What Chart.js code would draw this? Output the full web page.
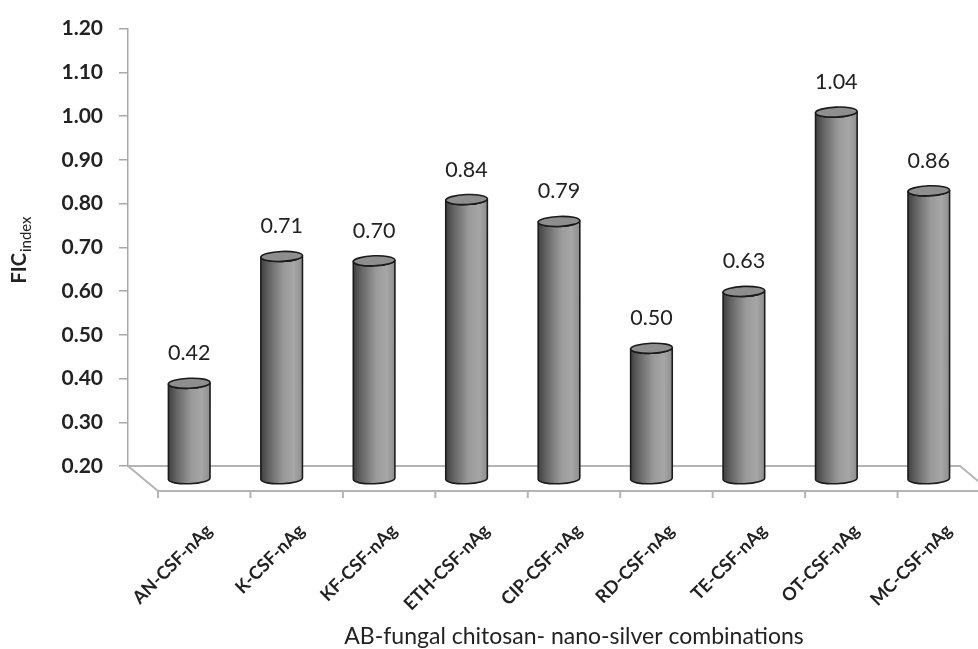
<!DOCTYPE html>
<html>
<head>
<meta charset="utf-8">
<script src="https://cdn.jsdelivr.net/npm/chart.js@4.4.1/dist/chart.umd.min.js"></script>
<style>
  html, body { margin: 0; padding: 0; background: #ffffff; }
  #wrap { width: 978px; height: 649px; }
</style>
</head>
<body>
<div id="wrap"><canvas id="chart" width="978" height="649"></canvas></div>
<script>
// FIC index of each antibiotic / fungal chitosan / nano-silver combination
const categories = [
  'AN-CSF-nAg', 'K-CSF-nAg', 'KF-CSF-nAg', 'ETH-CSF-nAg', 'CIP-CSF-nAg',
  'RD-CSF-nAg', 'TE-CSF-nAg', 'OT-CSF-nAg', 'MC-CSF-nAg'
];
const ficValues = [0.42, 0.71, 0.70, 0.84, 0.79, 0.50, 0.63, 1.04, 0.86];
const yTickValues = [0.20, 0.30, 0.40, 0.50, 0.60, 0.70, 0.80, 0.90, 1.00, 1.10, 1.20];
const xAxisTitle = 'AB-fungal chitosan- nano-silver combinations';
const yAxisTitle = 'FIC';
const yAxisTitleSub = 'index';

// depth of the 3-D floor (pixels the front edge sits right of / below the back edge)
const DEPTH_X = 30;
const DEPTH_Y = 25;
const FLOOR_COLOR = '#b4b4b4';
const FONT = 'Lato, "Open Sans", "DejaVu Sans", sans-serif';

// floor parallelogram under the cylinders, with category ticks on its front edge
const floorPlugin = {
  id: 'floor',
  beforeDatasetsDraw(chart) {
    const { ctx, chartArea } = chart;
    const y = chart.scales.y;
    const backY = y.getPixelForValue(y.min);
    const left = chartArea.left, right = chartArea.right;
    ctx.save();
    ctx.strokeStyle = FLOOR_COLOR;
    ctx.lineWidth = 2;
    ctx.beginPath();
    ctx.moveTo(left, backY);
    ctx.lineTo(left + DEPTH_X, backY + DEPTH_Y);
    ctx.lineTo(right + DEPTH_X, backY + DEPTH_Y);
    ctx.lineTo(right, backY);
    ctx.stroke();
    // category boundary ticks on the front edge
    const step = (right - left) / categories.length;
    ctx.beginPath();
    for (let i = 0; i <= categories.length; i++) {
      const px = left + DEPTH_X + i * step;
      ctx.moveTo(px, backY + DEPTH_Y);
      ctx.lineTo(px, backY + DEPTH_Y + 7);
    }
    ctx.stroke();
    ctx.restore();
  }
};

function drawCylinder(ctx, cx, topY, baseY, w, ry) {
  const rx = w / 2, l = cx - rx, r = cx + rx;
  const g = ctx.createLinearGradient(l, 0, r, 0);
  g.addColorStop(0.00, '#404040');
  g.addColorStop(0.18, '#626262');
  g.addColorStop(0.55, '#9a9a9a');
  g.addColorStop(0.80, '#a6a6a6');
  g.addColorStop(1.00, '#8e8e8e');
  const tilt = -0.04;
  ctx.beginPath();
  ctx.moveTo(l, topY);
  ctx.lineTo(l, baseY);
  ctx.ellipse(cx, baseY, rx, ry, tilt, Math.PI, 0, true);
  ctx.lineTo(r, topY);
  ctx.ellipse(cx, topY, rx, ry, tilt, 0, Math.PI, false);
  ctx.closePath();
  ctx.fillStyle = g;
  ctx.fill();
  ctx.strokeStyle = '#1c1c1c';
  ctx.lineWidth = 1.6;
  ctx.stroke();
  // top cap
  ctx.beginPath();
  ctx.ellipse(cx, topY, rx, ry, tilt, 0, Math.PI * 2);
  ctx.fillStyle = '#8e8e8e';
  ctx.fill();
  ctx.lineWidth = 1.6;
  ctx.strokeStyle = '#1a1a1a';
  ctx.stroke();
}

// cylinders placed half-way into the floor depth, plus value labels
const cylinderPlugin = {
  id: 'cylinders',
  afterDatasetsDraw(chart) {
    const { ctx } = chart;
    const meta = chart.getDatasetMeta(0);
    const dx = DEPTH_X / 2, dy = DEPTH_Y / 2 + 1;
    ctx.save();
    meta.data.forEach((bar, i) => {
      const p = bar.getProps(['x', 'y', 'base', 'width'], true);
      const cx = p.x + dx;
      const topY = p.y + dy;
      const baseY = p.base + dy;
      drawCylinder(ctx, cx, topY, baseY, p.width, 5);
      ctx.fillStyle = '#222222';
      ctx.font = '21.5px ' + FONT;
      ctx.textAlign = 'center';
      ctx.textBaseline = 'middle';
      ctx.fillText(ficValues[i].toFixed(2), cx, topY - 30);
    });
    ctx.restore();
  }
};

// axis titles (the y title carries a subscript)
const titlesPlugin = {
  id: 'titles',
  afterDraw(chart) {
    const { ctx, chartArea } = chart;
    ctx.save();
    ctx.fillStyle = '#222222';
    ctx.textBaseline = 'alphabetic';
    ctx.textAlign = 'center';
    ctx.font = '23px ' + FONT;
    ctx.fillText(xAxisTitle, (chartArea.left + chartArea.right) / 2 + DEPTH_X, 644);

    const mainFont = 'bold 20px ' + FONT;
    const subFont = '15px ' + FONT;
    ctx.font = mainFont;
    const wMain = ctx.measureText(yAxisTitle).width;
    ctx.font = subFont;
    const wSub = ctx.measureText(yAxisTitleSub).width;
    const total = wMain + wSub + 1;
    ctx.translate(26, 250);
    ctx.rotate(-Math.PI / 2);
    ctx.textAlign = 'left';
    ctx.font = mainFont;
    ctx.fillText(yAxisTitle, -total / 2, 0);
    ctx.font = subFont;
    ctx.fillText(yAxisTitleSub, -total / 2 + wMain + 1, 5);
    ctx.restore();
  }
};

new Chart(document.getElementById('chart'), {
  type: 'bar',
  data: {
    labels: categories,
    datasets: [{
      data: ficValues,
      backgroundColor: 'rgba(0,0,0,0)',
      borderWidth: 0,
      barPercentage: 0.45,
      categoryPercentage: 1.0,
      base: 0.2
    }]
  },
  options: {
    responsive: false,
    devicePixelRatio: 1,
    animation: false,
    layout: { padding: { top: 19, right: 18, left: 0, bottom: 0 } },
    plugins: { legend: { display: false }, tooltip: { enabled: false } },
    scales: {
      x: {
        grid: { display: false },
        border: { display: true, color: FLOOR_COLOR, width: 2 },
        ticks: {
          autoSkip: false,
          minRotation: 45,
          maxRotation: 45,
          labelOffset: 35,
          padding: 46,
          color: '#222222',
          font: { family: FONT, size: 18, weight: 'bold' }
        },
        afterFit(scale) { scale.height = 183; }
      },
      y: {
        min: 0.2,
        max: 1.2,
        afterBuildTicks(scale) { scale.ticks = yTickValues.map(v => ({ value: v })); },
        grid: { drawOnChartArea: false, tickLength: 9, color: '#a8a8a8', lineWidth: 1.5 },
        border: { display: true, color: '#a8a8a8', width: 1.5 },
        ticks: {
          padding: 16,
          color: '#222222',
          font: { family: FONT, size: 21, weight: 'bold' },
          callback: v => Number(v).toFixed(2)
        },
        afterFit(scale) { scale.width = 128; }
      }
    }
  },
  plugins: [floorPlugin, cylinderPlugin, titlesPlugin]
});
</script>
</body>
</html>
